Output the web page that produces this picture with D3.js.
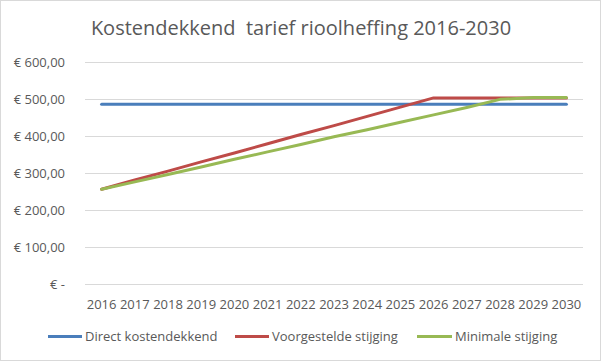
<!DOCTYPE html>
<html><head><meta charset="utf-8">
<script src="https://cdn.jsdelivr.net/npm/d3@7"></script>
<style>body{margin:0;background:#fff}svg{display:block}text{font-family:"Open Sans",sans-serif;fill:#595959}</style>
</head><body>
<svg id="c" width="601" height="361"></svg>
<script>
const years = ["2016","2017","2018","2019","2020","2021","2022","2023","2024","2025","2026","2027","2028","2029","2030"];
const direct = [486,486,486,486,486,486,486,486,486,486,486,486,486,486,486];
const voorgesteld = [256,281,305,330,354,379,404,428,453,478,503,503,503,503,503];
const minimaal = [256,276,296,316,337,357,377,398,417,437,457,477,499,504,504];
const yTicks = [0,100,200,300,400,500,600];
const tickLabels = ["€ -","€ 100,00","€ 200,00","€ 300,00","€ 400,00","€ 500,00","€ 600,00"];
const seriesNames = ["Direct kostendekkend","Voorgestelde stijging","Minimale stijging"];
const colors = ["#4a7ebb","#be4b48","#98b954"];
const series = [direct, voorgesteld, minimaal];

const svg = d3.select("#c");
svg.append("rect").attr("x",0.5).attr("y",0.5).attr("width",600).attr("height",360).attr("fill","#fff").attr("stroke","#d9d9d9");

const x = d3.scaleBand().domain(years).range([85,583]);
const y = d3.scaleLinear().domain([0,600]).range([284,62]);

svg.append("text").attr("x",301).attr("y",35).attr("text-anchor","middle").attr("font-size",20).text("Kostendekkend\u00a0 tarief rioolheffing 2016-2030");

const g = svg.append("g");
g.selectAll("line.grid").data(yTicks).join("line").attr("class","grid")
 .attr("x1",85).attr("x2",583).attr("y1",d=>Math.round(y(d))+0.5).attr("y2",d=>Math.round(y(d))+0.5)
 .attr("stroke","#d9d9d9").attr("stroke-width",1);

g.selectAll("text.yl").data(yTicks).join("text").attr("class","yl")
 .attr("x",65).attr("y",d=>y(d)).attr("dy","0.35em").attr("text-anchor","end").attr("font-size",13)
 .text((d,i)=>tickLabels[i]);

g.selectAll("text.xl").data(years).join("text").attr("class","xl")
 .attr("x",d=>x(d)+x.bandwidth()/2).attr("y",304).attr("dy","0.35em").attr("text-anchor","middle").attr("font-size",13)
 .text(d=>d);

const line = d3.line().x((d,i)=>x(years[i])+x.bandwidth()/2).y(d=>y(d));
series.forEach((s,i)=>{
  svg.append("path").datum(s).attr("d",line).attr("fill","none").attr("stroke",colors[i]).attr("stroke-width",3).attr("stroke-linejoin","round").attr("stroke-linecap","round");
});

const legX = [[48,85],[235,272],[417,455]];
seriesNames.forEach((n,i)=>{
  svg.append("line").attr("x1",legX[i][0]).attr("x2",legX[i][1]-3).attr("y1",336.5).attr("y2",336.5).attr("stroke",colors[i]).attr("stroke-width",3);
  svg.append("text").attr("x",legX[i][1]).attr("y",336.5).attr("dy","0.35em").attr("font-size",13).text(n);
});
</script>
</body></html>
